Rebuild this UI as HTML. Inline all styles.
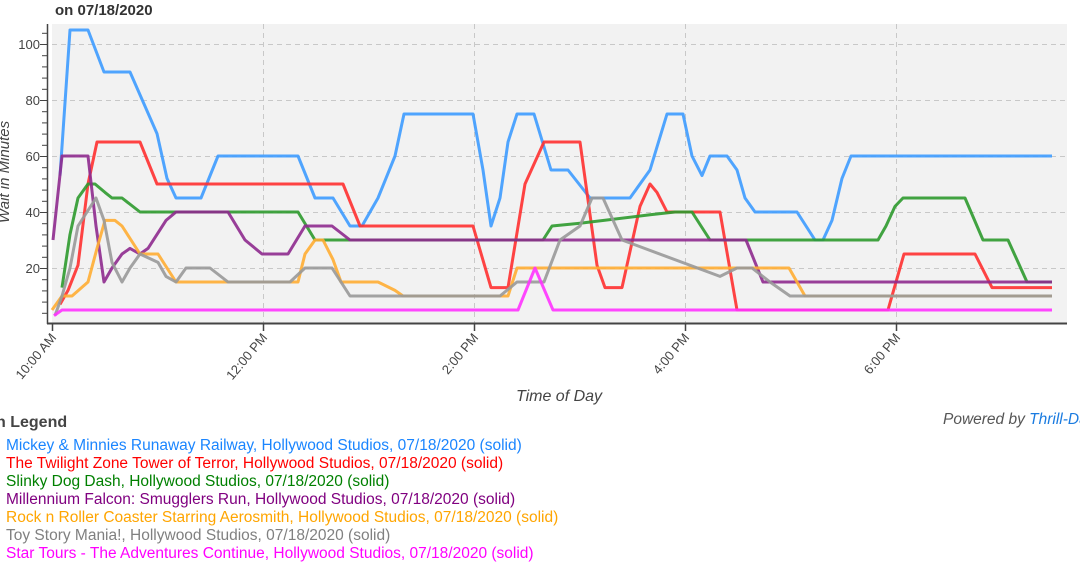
<!DOCTYPE html>
<html><head><meta charset="utf-8"><style>
body{margin:0;background:#fff;width:1080px;height:567px;overflow:hidden;font-family:"Liberation Sans",sans-serif}
.lg{position:absolute;left:6px;font-size:15.5px;line-height:18px;white-space:nowrap}
</style></head><body>
<svg id="s" width="1080" height="567" style="position:absolute;left:0;top:0" font-family="Liberation Sans, sans-serif">
<text x="55" y="15" font-size="15" font-weight="bold" fill="#333">on 07/18/2020</text>
<rect x="52" y="24" width="1015" height="299" fill="#f2f2f2"/>
<g id="grid" stroke="#c8c8c8" stroke-dasharray="5,4" stroke-width="1"></g>
<g id="lines" fill="none" stroke-width="3" stroke-linejoin="round" stroke-opacity="0.9"></g>
<line x1="47" y1="323.5" x2="1067" y2="323.5" stroke="#444" stroke-width="2"/>
<line x1="47.5" y1="24" x2="47.5" y2="324" stroke="#444" stroke-width="1.5"/>
<g id="ticks" stroke="#444"></g>
<g id="labels" font-size="13" fill="#444"></g>
<text x="0" y="0" transform="translate(9,172) rotate(-90)" text-anchor="middle" font-size="15" font-style="italic" fill="#444">Wait in Minutes</text>
<text x="559" y="401" text-anchor="middle" font-size="16" font-style="italic" fill="#444">Time of Day</text>
<text x="-4" y="427" font-size="16" font-weight="bold" fill="#444">n Legend</text>
<text x="943" y="424" font-size="15.5" font-style="italic" fill="#555">Powered by <tspan fill="#1a7be0">Thrill-Data</tspan></text>
</svg>
<div class="lg" style="top:437px;color:#1a85ff">Mickey &amp; Minnies Runaway Railway, Hollywood Studios, 07/18/2020 (solid)</div>
<div class="lg" style="top:455px;color:#ff0000">The Twilight Zone Tower of Terror, Hollywood Studios, 07/18/2020 (solid)</div>
<div class="lg" style="top:473px;color:#008000">Slinky Dog Dash, Hollywood Studios, 07/18/2020 (solid)</div>
<div class="lg" style="top:491px;color:#800080">Millennium Falcon: Smugglers Run, Hollywood Studios, 07/18/2020 (solid)</div>
<div class="lg" style="top:509px;color:#ffa500">Rock n Roller Coaster Starring Aerosmith, Hollywood Studios, 07/18/2020 (solid)</div>
<div class="lg" style="top:527px;color:#808080">Toy Story Mania!, Hollywood Studios, 07/18/2020 (solid)</div>
<div class="lg" style="top:545px;color:#ff00ff">Star Tours - The Adventures Continue, Hollywood Studios, 07/18/2020 (solid)</div>
<script>
const NS="http://www.w3.org/2000/svg";
function el(p,t,a){const e=document.createElementNS(NS,t);for(const k in a)e.setAttribute(k,a[k]);p.appendChild(e);return e;}
const Y=v=>324-2.8*v;
const g=document.getElementById('grid'),tk=document.getElementById('ticks'),lb=document.getElementById('labels');
const xs=[52,263,474,685,896],xl=["10:00 AM","12:00 PM","2:00 PM","4:00 PM","6:00 PM"];
xs.forEach((x,i)=>{if(i>0)el(g,'line',{x1:x+.5,y1:24,x2:x+.5,y2:323});
el(tk,'line',{x1:x+.5,y1:323,x2:x+.5,y2:331,'stroke-width':1.5});
const t=el(lb,'text',{transform:`translate(${x+5},338) rotate(-50)`,'text-anchor':'end'});t.textContent=xl[i];});
[20,40,60,80,100].forEach(v=>{el(g,'line',{x1:52,y1:Y(v)+.5,x2:1067,y2:Y(v)+.5});
const t=el(lb,'text',{x:40,y:Y(v)+5,'text-anchor':'end'});t.textContent=v;});
for(let v=4;v<=104;v+=4){el(tk,'line',{x1:42,y1:Y(v)+.5,x2:47,y2:Y(v)+.5,'stroke-width':1});}
[20,40,60,80,100].forEach(v=>el(tk,'line',{x1:40,y1:Y(v)+.5,x2:47,y2:Y(v)+.5,'stroke-width':1}));
const S=[
["#3d9bff",[[60,53],[70,105],[88,105],[104,90],[130,90],[157,68],[167,52],[176,45],[201,45],[218,60],[298,60],[315,45],[333,45],[350,35],[362,35],[378,45],[395,60],[404,75],[473,75],[483,55],[491,35],[500,45],[508,65],[517,75],[534,75],[551,55],[568,55],[590,45],[630,45],[650,55],[667,75],[683,75],[692,60],[702,53],[710,60],[727,60],[737,55],[745,45],[755,40],[797,40],[815,30],[823,30],[832,37],[842,52],[851,60],[1052,60]]],
["#ff3030",[[60,7],[68,12],[78,21],[88,50],[97,65],[140,65],[157,50],[343,50],[360,35],[473,35],[491,13],[508,13],[525,50],[544,65],[580,65],[597,21],[605,13],[622,13],[640,42],[650,50],[657,47],[667,40],[720,40],[737,5],[888,5],[904,25],[975,25],[992,13],[1052,13]]],
["#2e9a2e",[[62,13],[70,32],[78,45],[88,50],[95,50],[105,47],[112,45],[122,45],[140,40],[298,40],[315,30],[543,30],[552,35],[580,36],[650,39],[675,40],[692,40],[710,30],[878,30],[886,35],[895,42],[903,45],[965,45],[983,30],[1008,30],[1027,15],[1052,15]]],
["#8e2a8e",[[53,30],[62,60],[88,60],[96,35],[104,15],[112,20],[122,25],[130,27],[140,25],[148,27],[157,32],[166,37],[176,40],[228,40],[245,30],[262,25],[288,25],[305,35],[332,35],[350,30],[746,30],[763,15],[1052,15]]],
["#ffad33",[[52,5],[62,10],[72,10],[88,15],[97,27],[105,37],[115,37],[122,35],[140,25],[158,25],[176,15],[298,15],[305,25],[315,30],[323,30],[333,23],[341,15],[378,15],[395,12],[403,10],[508,10],[517,20],[789,20],[805,10],[1052,10]]],
["#999999",[[55,3],[62,10],[70,20],[78,35],[96,45],[104,37],[112,22],[122,15],[130,20],[140,25],[158,22],[166,17],[176,15],[186,20],[210,20],[228,15],[290,15],[305,20],[332,20],[350,10],[500,10],[517,15],[544,15],[560,30],[580,35],[592,45],[603,45],[622,30],[720,17],[737,20],[752,20],[770,15],[790,10],[1052,10]]],
["#ff33ff",[[54,3],[62,5],[518,5],[535,20],[553,5],[1052,5]]]];
const L=document.getElementById('lines');
S.forEach(([c,p])=>el(L,'polyline',{stroke:c,points:p.map(q=>q[0]+','+Y(q[1]).toFixed(1)).join(' ')}));
</script>
</body></html>
